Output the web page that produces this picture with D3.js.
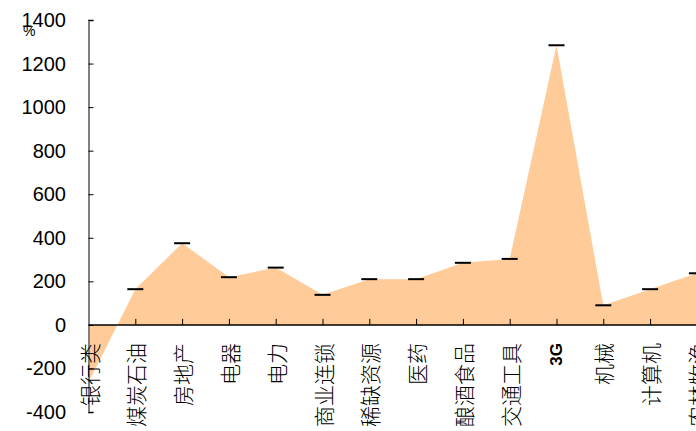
<!DOCTYPE html>
<html>
<head>
<meta charset="utf-8">
<script src="https://cdn.jsdelivr.net/npm/d3@7"></script>
<style>
  body { margin: 0; background: #fff; }
  svg { display: block; }
</style>
</head>
<body>
<div id="chart"></div>
<script>
// sectors along the x axis
var categories = ["银行类", "煤炭石油", "房地产", "电器", "电力", "商业连锁", "稀缺资源",
                  "医药", "酿酒食品", "交通工具", "3G", "机械", "计算机", "农林牧渔"];
// growth, %
var values = [-265, 164, 375, 219, 263, 138, 210, 210, 285, 303, 1284, 90, 164, 237];
var yTicks = [-400, -200, 0, 200, 400, 600, 800, 1000, 1200, 1400];

var width = 696, height = 431;

var svg = d3.select("#chart")
    .append("svg")
    .attr("width", width)
    .attr("height", height);

var x = d3.scalePoint()
    .domain(categories)
    .range([88.5, 88.5 + 46.8 * (categories.length - 1)]);

var y = d3.scaleLinear()
    .domain([-400, 1400])
    .range([412, 20]);

var data = categories.map(function(c, i) { return {cat: c, value: values[i]}; });

// the filled area between the line and zero
var area = d3.area()
    .x(function(d) { return x(d.cat); })
    .y0(y(0))
    .y1(function(d) { return y(d.value); });

svg.append("path")
    .datum(data)
    .attr("d", area)
    .attr("fill", "#ffcc99");

// y axis, grey, ticks pointing inward
var yAxis = svg.append("g")
    .attr("transform", "translate(" + x(categories[0]) + ",0)")
    .call(d3.axisRight(y).tickValues(yTicks).tickSize(5).tickFormat(""));
yAxis.select(".domain").attr("stroke", "#808080").attr("stroke-width", 2);
yAxis.selectAll(".tick line").attr("stroke", "#000");

svg.selectAll(".ylab")
    .data(yTicks)
    .enter()
    .append("text")
    .attr("x", 66)
    .attr("y", function(d) { return y(d); })
    .attr("dy", "0.35em")
    .attr("text-anchor", "end")
    .style("font-family", "Liberation Sans, Arial, sans-serif")
    .style("font-size", "20px")
    .text(function(d) { return d; });

svg.append("text")
    .attr("x", 23)
    .attr("y", 36)
    .style("font-family", "Liberation Sans, Arial, sans-serif")
    .style("font-size", "14px")
    .text("%");

// x axis at zero, ticks pointing up
var xAxis = svg.append("g")
    .attr("transform", "translate(0," + y(0) + ")")
    .call(d3.axisTop(x).tickSize(6).tickSizeOuter(0).tickFormat(""));
xAxis.select(".domain").attr("d", "M" + x(categories[0]) + ",0H" + (width + 2))
    .attr("stroke", "#000").attr("stroke-width", 1.5);
xAxis.selectAll(".tick").filter(function(d, i) { return i === 0; }).remove();

// short black dashes at each value
svg.selectAll(".mark")
    .data(data.slice(1))
    .enter()
    .append("line")
    .attr("x1", function(d) { return x(d.cat) - 8; })
    .attr("x2", function(d) { return x(d.cat) + 8; })
    .attr("y1", function(d) { return y(d.value); })
    .attr("y2", function(d) { return y(d.value); })
    .attr("stroke", "#000")
    .attr("stroke-width", 2);

// vertical category labels
svg.selectAll(".xlab")
    .data(categories)
    .enter()
    .append("text")
    .attr("transform", function(d) { return "translate(" + x(d) + ",343) rotate(-90)"; })
    .attr("text-anchor", "end")
    .attr("dominant-baseline", "central")
    .style("font-family", function(d) { return d === "3G" ? "Liberation Sans, Arial, sans-serif" : "Noto Sans CJK SC, sans-serif"; })
    .style("font-weight", function(d) { return d === "3G" ? "bold" : "300"; })
    .style("font-size", function(d) { return d === "3G" ? "17px" : "21px"; })
    .text(function(d) { return d; });
</script>
</body>
</html>
